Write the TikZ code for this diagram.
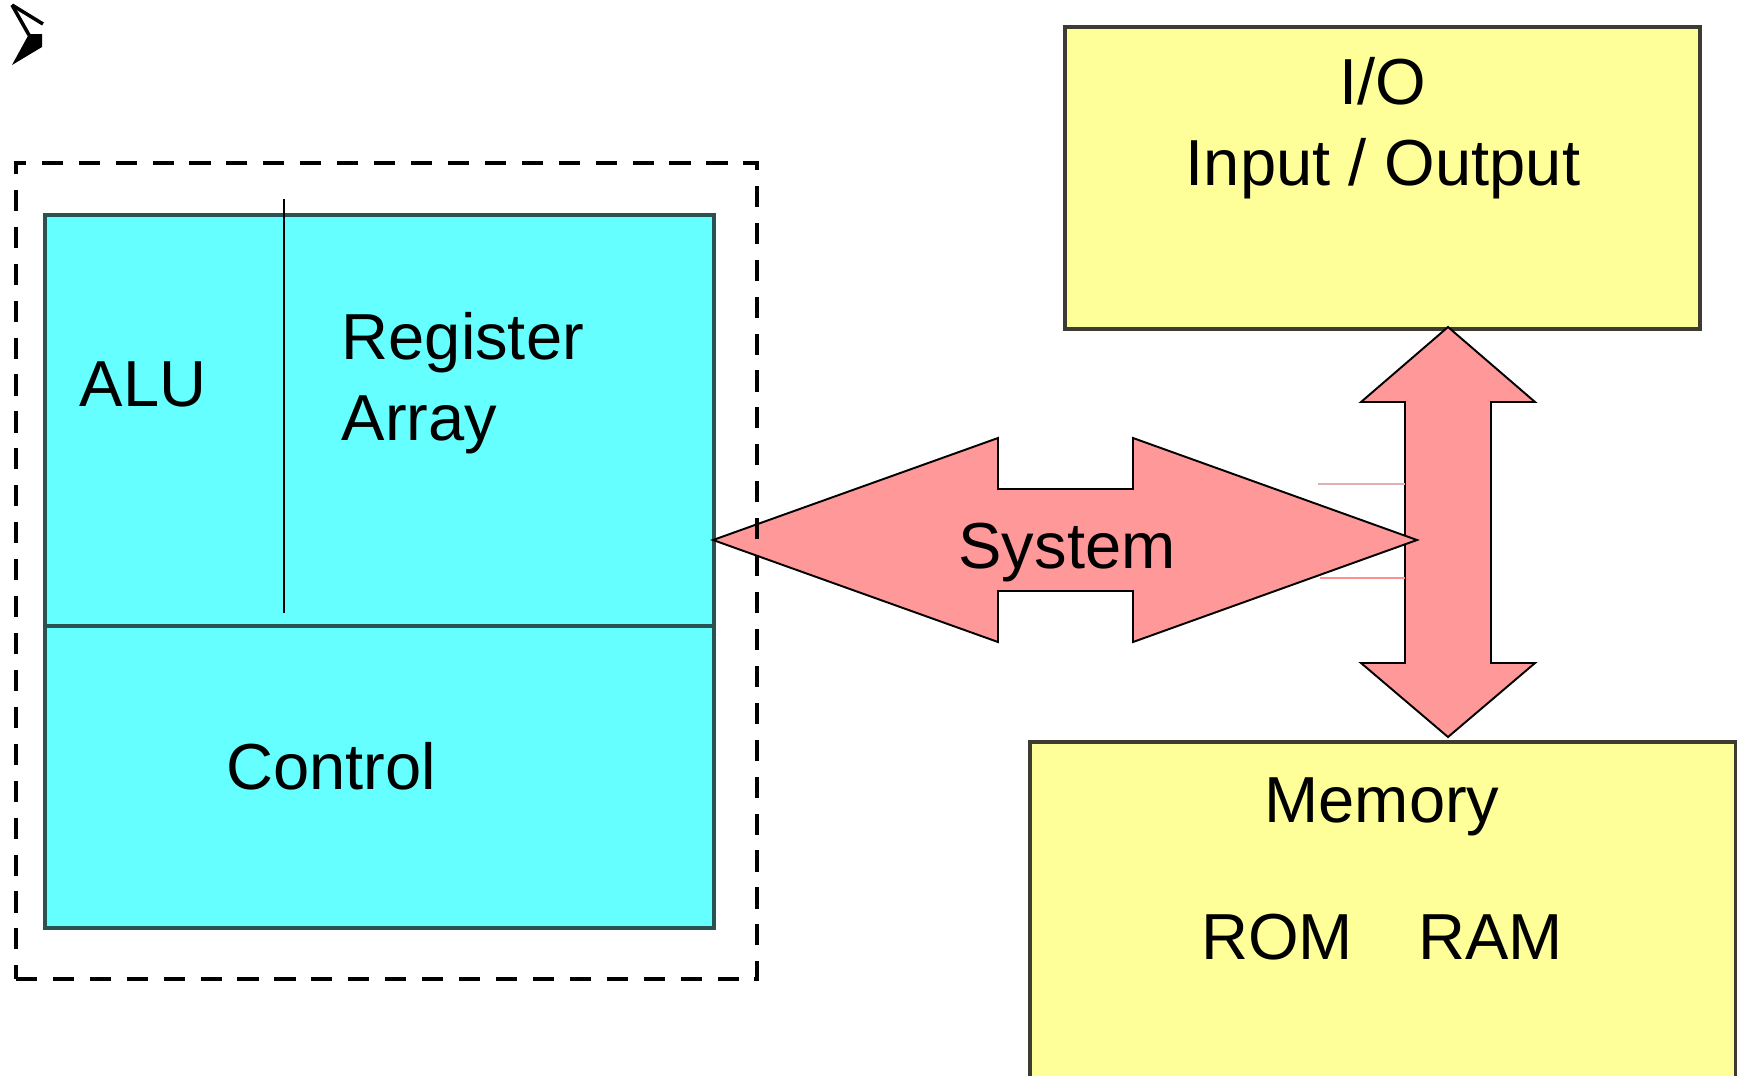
\documentclass[tikz,border=0pt]{standalone}
\usepackage{fontspec}
\setmainfont{Liberation Sans}

\definecolor{cpucyan}{HTML}{66FFFF}
\definecolor{cpuedge}{HTML}{2A5252}
\definecolor{boxyellow}{HTML}{FFFF99}
\definecolor{boxedge}{HTML}{3C3C32}
\definecolor{buspink}{HTML}{FF9999}

\tikzset{
    lbl/.style={inner sep=0pt, font=\fontsize{18.5}{23}\selectfont},
    cpubox/.style={draw=cpuedge, fill=cpucyan, line width=1pt, inner sep=0pt, anchor=north west},
    unitbox/.style={draw=boxedge, fill=boxyellow, line width=1pt, inner sep=0pt, anchor=north west},
    busarrow/.style={draw=black, fill=buspink, line width=0.55pt, line join=miter},
    chipframe/.style={draw=black, line width=1.1pt, dash pattern=on 6pt off 4.5pt, inner sep=0pt, anchor=north west}
}

\begin{document}
\begin{tikzpicture}[x=0.01cm, y=-0.01cm]

            \useasboundingbox (0,0) rectangle (1737,1075);
            \clip (0,0) rectangle (1737,1075);

            % bullet mark
            \draw[line width=1pt] (12,5) -- (43,24);
            \draw[line width=1pt] (12,5) -- (29,35);
            \fill (29,34) -- (42,34) -- (42,47) -- (12,65) -- cycle;

            % processor
            \node[cpubox, minimum width=6.69cm, minimum height=7.13cm] (cpu) at (43,213) {};
            \draw[cpuedge, line width=1pt] (43,626) -- (712,626);
            \draw[black, line width=0.7pt] (284,199) -- (284,613);

            \node[lbl, anchor=base] (alu) at (143,406) {ALU};
            \node[lbl, anchor=base west, align=left] (reg) at (341,440) {Register\\Array};
            \node[lbl, anchor=base] (ctrl) at (331,789) {Control};

            % I/O and memory
            \node[unitbox, minimum width=6.35cm, minimum height=3.02cm] (iobox) at (1063,25) {};
            \node[lbl, anchor=base, align=center] (io) at (1383,185) {I/O\\Input / Output};

            \node[unitbox, minimum width=7.06cm, minimum height=3.6cm] (membox) at (1028,740) {};
            \node[lbl, anchor=base] (mem) at (1382,822) {Memory};
            \node[lbl, anchor=base] (romram) at (1382,959) {ROM\quad RAM};

            % buses
            \draw[busarrow] (1448,327) -- ++(87,75) -- ++(-44,0) -- ++(0,261) -- ++(44,0)
                -- ++(-87,74) -- ++(-87,-74) -- ++(44,0) -- ++(0,-261) -- ++(-44,0) -- cycle;

            \draw[busarrow] (713,540) -- ++(285,-102) -- ++(0,51) -- ++(135,0) -- ++(0,-51)
                -- ++(284,102) -- ++(-284,102) -- ++(0,-51) -- ++(-135,0) -- ++(0,51) -- cycle;
            \node[lbl, anchor=base] (sys) at (1067,568) {System};

            \draw[color={rgb,255:red,224;green,176;blue,176}, line width=0.45pt] (1318,484) -- (1405,484);
            \draw[color={rgb,255:red,255;green,144;blue,144}, line width=0.45pt] (1320,578) -- (1405,578);

            % chip boundary
            \node[chipframe, minimum width=7.41cm, minimum height=8.16cm] (chip) at (14,161) {};

        \end{tikzpicture}
\end{document}
